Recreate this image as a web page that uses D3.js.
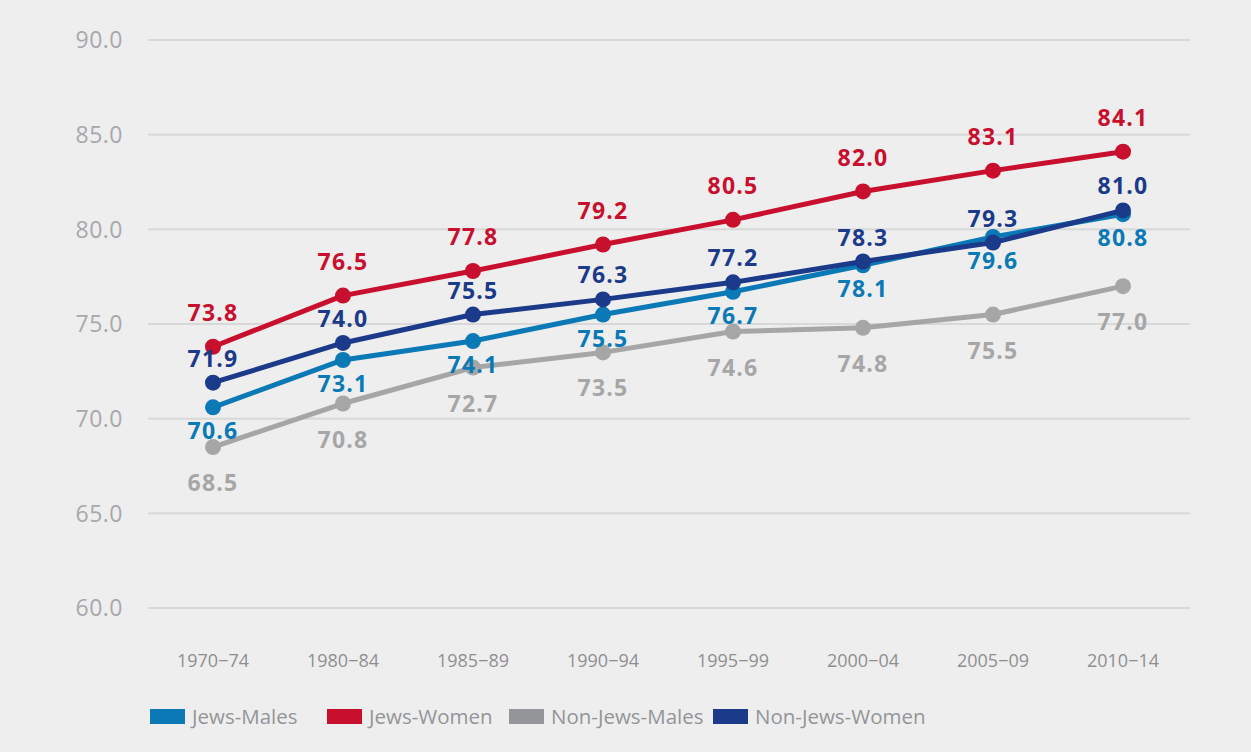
<!DOCTYPE html>
<html><head><meta charset="utf-8">
<script src="https://cdn.jsdelivr.net/npm/d3@7"></script>
<style>
html,body{margin:0;padding:0;background:#eeeeee;}
svg{display:block;font-family:"Open Sans",sans-serif;}
</style></head>
<body><svg id="c" width="1251" height="752"></svg>
<script>
const categories = ["1970−74","1980−84","1985−89","1990−94","1995−99","2000−04","2005−09","2010−14"];
const yTicks = [60,65,70,75,80,85,90];
const jewsMales = [70.6,73.1,74.1,75.5,76.7,78.1,79.6,80.8];
const jewsWomen = [73.8,76.5,77.8,79.2,80.5,82.0,83.1,84.1];
const nonJewsMales = [68.5,70.8,72.7,73.5,74.6,74.8,75.5,77.0];
const nonJewsWomen = [71.9,74.0,75.5,76.3,77.2,78.3,79.3,81.0];
const seriesNames = ["Jews-Males","Jews-Women","Non-Jews-Males","Non-Jews-Women"];

const colors = {"Jews-Males":"#0a79b5","Jews-Women":"#c8102e","Non-Jews-Males":"#a6a6a6","Non-Jews-Women":"#1b3a89"};
const legendColors = {"Jews-Males":"#0a79b5","Jews-Women":"#c8102e","Non-Jews-Males":"#939598","Non-Jews-Women":"#1b3a89"};
const labelDy = {"Jews-Males":24,"Jews-Women":-34,"Non-Jews-Males":36,"Non-Jews-Women":-24};

const series = [
  {name:"Non-Jews-Males", values:nonJewsMales},
  {name:"Jews-Males", values:jewsMales},
  {name:"Jews-Women", values:jewsWomen},
  {name:"Non-Jews-Women", values:nonJewsWomen}
];

const svg = d3.select("#c");
const x = d3.scalePoint().domain(categories).range([213,1123]);
const y = d3.scaleLinear().domain([60,90]).range([608,40]);

// grid
svg.append("g").selectAll("line").data(yTicks).join("line")
  .attr("x1",148).attr("x2",1190)
  .attr("y1",d=>y(d)).attr("y2",d=>y(d))
  .attr("stroke","#d8d8d8").attr("stroke-width",2);

// y labels
svg.append("g").selectAll("text").data(yTicks).join("text")
  .attr("x",123).attr("y",d=>y(d)).attr("dy","0.36em")
  .attr("text-anchor","end").attr("fill","#a8a8ac")
  .attr("font-size",23).attr("letter-spacing","0.5px").text(d=>d.toFixed(1));

// x labels
svg.append("g").selectAll("text").data(categories).join("text")
  .attr("x",d=>x(d)).attr("y",667)
  .attr("text-anchor","middle").attr("fill","#8e8e92")
  .attr("font-size",18).text(d=>d);

const line = d3.line().x((d,i)=>x(categories[i])).y(d=>y(d));

series.forEach(s=>{
  const g = svg.append("g");
  g.append("path").datum(s.values).attr("d",line)
    .attr("fill","none").attr("stroke",colors[s.name]).attr("stroke-width",5)
    .attr("stroke-linejoin","round");
  g.selectAll("circle").data(s.values).join("circle")
    .attr("cx",(d,i)=>x(categories[i])).attr("cy",d=>y(d)).attr("r",8)
    .attr("fill",colors[s.name]);
});

series.forEach(s=>{
  svg.append("g").selectAll("text").data(s.values).join("text")
    .attr("x",(d,i)=>x(categories[i])).attr("y",d=>y(d)+labelDy[s.name])
    .attr("text-anchor","middle").attr("fill",colors[s.name])
    .attr("font-size",23).attr("font-weight","bold").attr("letter-spacing","1.2px")
    .attr("dy","0.35em").text(d=>d.toFixed(1));
});

// legend
const legendPos = [150,327,509,713];
const lg = svg.append("g").selectAll("g").data(seriesNames).join("g")
  .attr("transform",(d,i)=>`translate(${legendPos[i]},709)`);
lg.append("rect").attr("width",35).attr("height",15).attr("fill",d=>legendColors[d]);
lg.append("text").attr("x",42).attr("y",8).attr("dy","0.36em")
  .attr("fill","#939598").attr("font-size",20.5).text(d=>d);
</script>
</body></html>
